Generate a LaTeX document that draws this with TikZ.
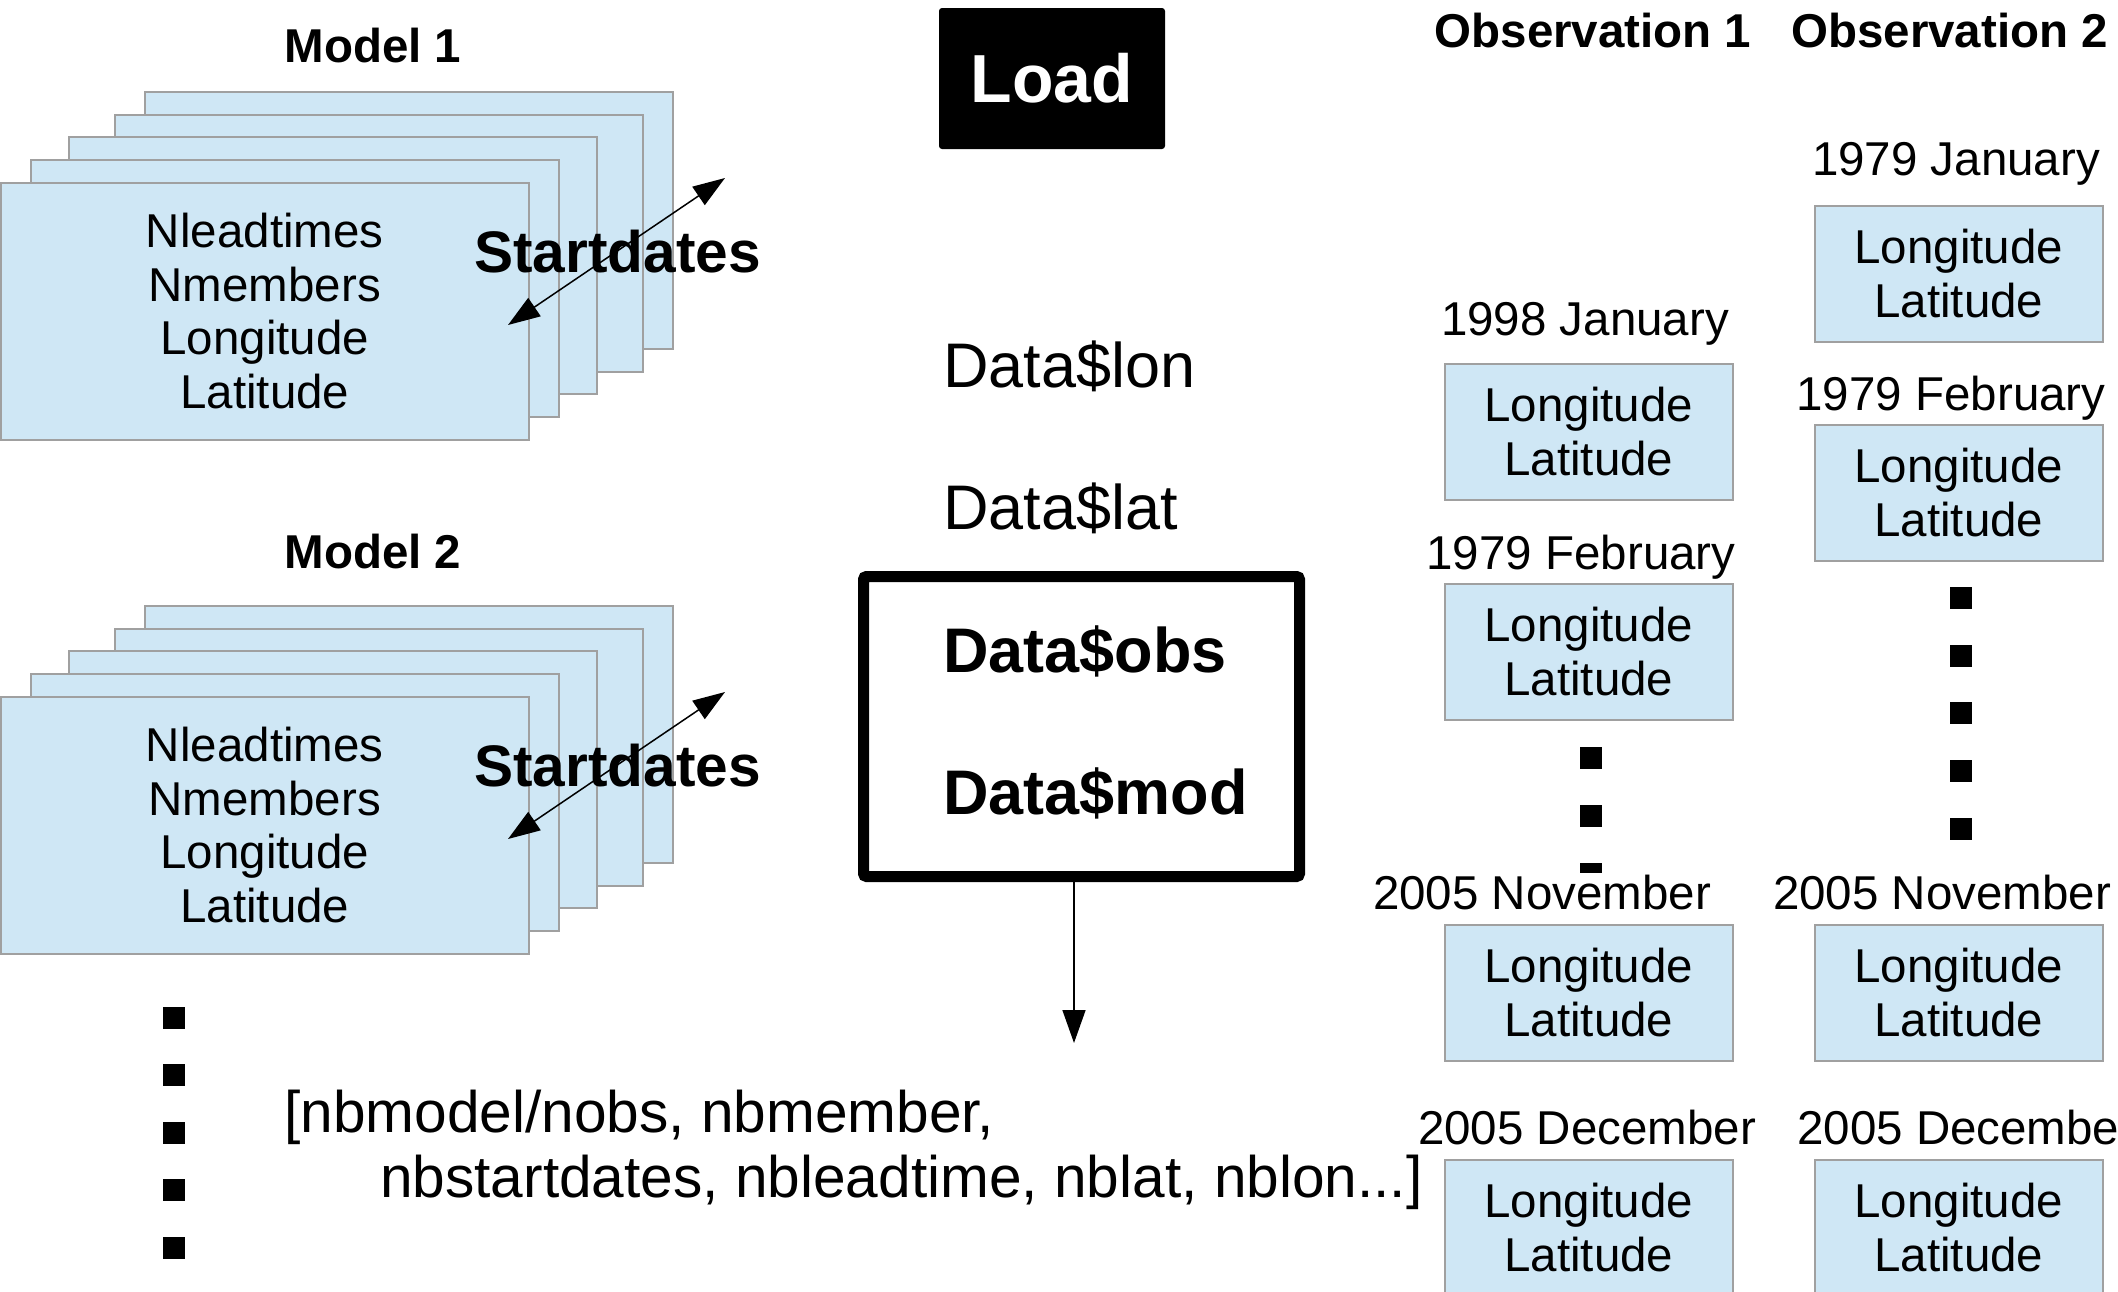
\documentclass[tikz,border=0pt]{standalone}
\usepackage{fontspec}
\setmainfont{Liberation Sans}
\usetikzlibrary{arrows.meta}
\definecolor{boxblue}{RGB}{207,231,245}
\definecolor{boxline}{RGB}{160,160,160}
\newcommand\fsreg{\fontsize{47.5}{53.5}\selectfont}
\newcommand\fsstart{\fontsize{58.6}{64}\selectfont\bfseries}
\newcommand\fsdata{\fontsize{63}{70}\selectfont}
\newcommand\fsload{\fontsize{68}{74}\selectfont\bfseries}
\newcommand\fsbottom{\fontsize{58.6}{65}\selectfont}
\begin{document}
\begin{tikzpicture}[x=1pt,y=-1pt,
  modelbox/.style={draw=boxline, line width=1.5pt, fill=boxblue, minimum width=528pt, minimum height=257pt, inner sep=0pt, anchor=north west, align=center, font=\fsreg},
  obsbox/.style={draw=boxline, line width=1.5pt, fill=boxblue, minimum width=288pt, minimum height=136pt, inner sep=0pt, anchor=north west, align=center, font=\fsreg},
  lbl/.style={inner sep=0pt, anchor=base, font=\fsreg},
  title/.style={inner sep=0pt, anchor=base, font=\fsreg\bfseries},
  startlbl/.style={inner sep=0pt, anchor=base west, font=\fsstart},
  datalbl/.style={inner sep=0pt, anchor=base west, font=\fsdata},
  dotsq/.style={fill=black, minimum size=22pt, inner sep=0pt},
  dblarrow/.style={line width=1.5pt, {Triangle[length=32pt,width=22pt]}-{Triangle[length=32pt,width=22pt]}},
  downarrow/.style={line width=1.5pt, -{Triangle[length=33pt,width=23pt]}}
]
\useasboundingbox (0,0) rectangle (2118,1291);

% ---------- Model 1 ----------
\node[title] (m1title) at (373,62) {Model 1};
\node[modelbox] (m1b5) at (144,91) {};
\node[modelbox] (m1b4) at (114,114) {};
\node[modelbox] (m1b3) at (68,136) {};
\node[modelbox] (m1b2) at (30,159) {};
\node[modelbox] (m1b1) at (0,182) {Nleadtimes\\Nmembers\\Longitude\\Latitude};
\node[startlbl] (m1start) at (474,272) {Startdates};
\coordinate (m1sa) at (508,325);
\coordinate (m1sb) at (725,178);
\draw[dblarrow] (m1sa) -- (m1sb);

% ---------- Model 2 ----------
\node[title] (m2title) at (373,568) {Model 2};
\node[modelbox] (m2b5) at (144,605) {};
\node[modelbox] (m2b4) at (114,628) {};
\node[modelbox] (m2b3) at (68,650) {};
\node[modelbox] (m2b2) at (30,673) {};
\node[modelbox] (m2b1) at (0,696) {Nleadtimes\\Nmembers\\Longitude\\Latitude};
\node[startlbl] (m2start) at (474,786) {Startdates};
\coordinate (m2sa) at (508,839);
\coordinate (m2sb) at (725,692);
\draw[dblarrow] (m2sa) -- (m2sb);

% ---------- left dots ----------
\node[dotsq] (ld1) at (174,1018) {};
\node[dotsq] (ld2) at (174,1075) {};
\node[dotsq] (ld3) at (174,1133) {};
\node[dotsq] (ld4) at (174,1190) {};
\node[dotsq] (ld5) at (174,1248) {};

% ---------- centre ----------
\node[fill=black, rounded corners=3pt, minimum width=226pt, minimum height=141pt, inner sep=0pt, text=white, font=\fsload] (load) at (1052,78.5) {Load};
\node[datalbl] (dlon) at (943,387) {Data\$lon};
\node[datalbl] (dlat) at (943,529) {Data\$lat};
\node[draw=black, line width=11pt, rounded corners=3pt, minimum width=436pt, minimum height=300pt, inner sep=0pt] (datab) at (1081.5,726.5) {};
\node[datalbl, font=\fsdata\bfseries] (dobs) at (943,672) {Data\$obs};
\node[datalbl, font=\fsdata\bfseries] (dmod) at (943,814) {Data\$mod};
\coordinate (arrowend) at (1074,1043);
\draw[downarrow] (datab.south -| arrowend) -- (arrowend);
\node[inner sep=0pt, anchor=base west, font=\fsbottom] (dims1) at (284,1132) {[nbmodel/nobs, nbmember,};
\node[inner sep=0pt, anchor=base west, font=\fsbottom] (dims2) at (380,1197) {nbstartdates, nbleadtime, nblat, nblon...]};

% ---------- Observation 1 ----------
\node[title] (o1title) at (1593,47) {Observation 1};
\node[lbl] (o1d1) at (1585,335) {1998 January};
\node[obsbox] (o1b1) at (1444,363) {Longitude\\Latitude};
\node[lbl] (o1d2) at (1581,569) {1979 February};
\node[obsbox] (o1b2) at (1444,583) {Longitude\\Latitude};
\node[dotsq] (o1s1) at (1591,758) {};
\node[dotsq] (o1s2) at (1591,816) {};
\node[fill=black, minimum width=22pt, minimum height=10pt, inner sep=0pt] (o1s3) at (1591,868) {};
\node[lbl] (o1d3) at (1542,909) {2005 November};
\node[obsbox] (o1b3) at (1444,924) {Longitude\\Latitude};
\node[lbl] (o1d4) at (1587,1144) {2005 December};
\node[obsbox] (o1b4) at (1444,1159) {Longitude\\Latitude};

% ---------- Observation 2 ----------
\node[title, anchor=base west] (o2title) at (1791,47) {Observation 2};
\node[lbl] (o2d1) at (1956,175) {1979 January};
\node[obsbox] (o2b1) at (1814,205) {Longitude\\Latitude};
\node[lbl] (o2d2) at (1951,410) {1979 February};
\node[obsbox] (o2b2) at (1814,424) {Longitude\\Latitude};
\node[dotsq] (o2s1) at (1961,598) {};
\node[dotsq] (o2s2) at (1961,656) {};
\node[dotsq] (o2s3) at (1961,713) {};
\node[dotsq] (o2s4) at (1961,771) {};
\node[dotsq] (o2s5) at (1961,829) {};
\node[lbl] (o2d3) at (1942,909) {2005 November};
\node[obsbox] (o2b3) at (1814,924) {Longitude\\Latitude};
\node[lbl, anchor=base west] (o2d4) at (1797,1144) {2005 December};
\node[obsbox] (o2b4) at (1814,1159) {Longitude\\Latitude};
\end{tikzpicture}
\end{document}
